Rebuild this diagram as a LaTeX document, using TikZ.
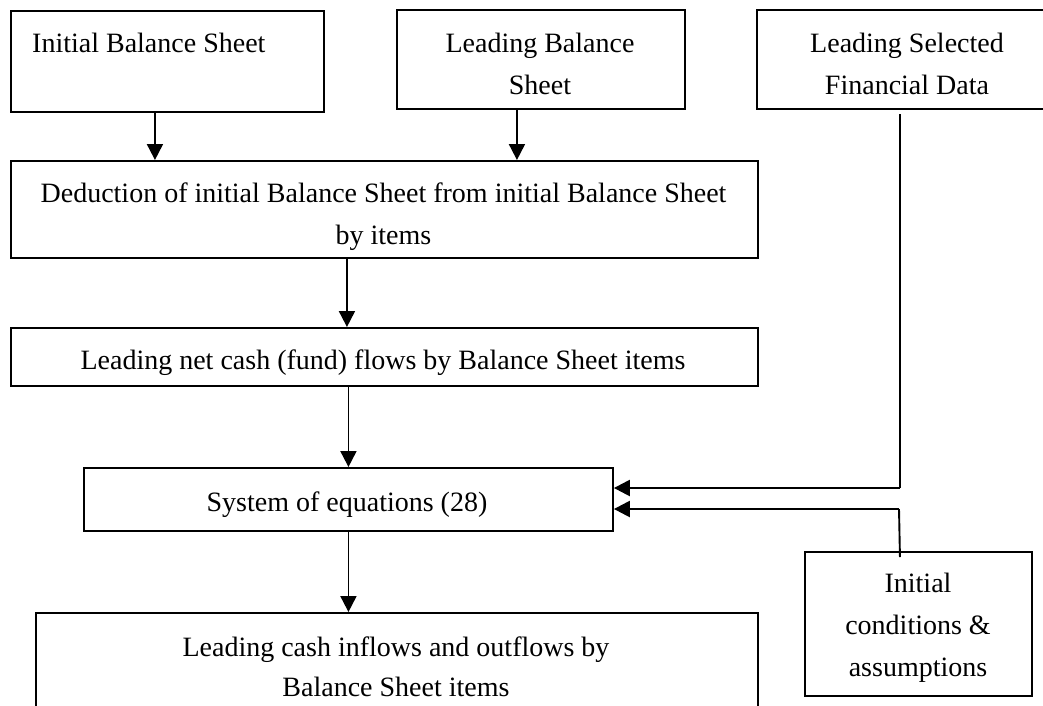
\documentclass[tikz,border=0pt]{standalone}
\usepackage{fontspec}
\setmainfont{Liberation Serif}
\usetikzlibrary{arrows.meta}
\begin{document}
\begin{tikzpicture}[x=1pt,y=-1pt,
  box/.style={draw, line width=1.9pt, inner sep=0pt, anchor=north west},
  txt/.style={font=\fontsize{28}{42}\selectfont, align=center, inner sep=0pt},
  arr/.style={-{Triangle[length=16pt,width=16pt]}, line width=1.9pt},
  harr/.style={-{Triangle[length=16pt,width=16pt]}, line width=2.4pt}]
\clip (0,0) rectangle (1043,705);
\fill[white] (0,0) rectangle (1043,705);
% boxes
\node[box, minimum width=313pt, minimum height=101pt] (b1) at (10,10) {};
\node[box, minimum width=288pt, minimum height=99pt] (b2) at (396,9) {};
\node[box, minimum width=302pt, minimum height=99pt] (b3) at (756,9) {};
\node[box, minimum width=747pt, minimum height=97pt] (b4) at (10,160) {};
\node[box, minimum width=747pt, minimum height=58pt] (b5) at (10,327) {};
\node[box, minimum width=529pt, minimum height=63pt] (b6) at (83,467) {};
\node[box, minimum width=227pt, minimum height=144pt] (b7) at (804,551) {};
\node[box, minimum width=722pt, minimum height=110pt] (b8) at (35,612) {};
% texts
\node[txt, anchor=west] (t1) at (32,43) {Initial Balance Sheet};
\node[txt] (t2) at (540,63.5) {Leading Balance\\Sheet};
\node[txt] (t3) at (907,63.5) {Leading Selected\\Financial Data};
\node[txt] (t4) at (383.5,216.5) {Deduction of initial Balance Sheet from initial Balance Sheet\\by items};
\node[txt] (t5) at (383,362.3) {Leading net cash (fund) flows by Balance Sheet items};
\node[txt] (t6) at (347,504.3) {System of equations (28)};
\node[txt] (t7) at (918,627.5) {Initial\\conditions \&\\assumptions};
\node[txt, font=\fontsize{28}{40}\selectfont] (t8) at (396,666.5) {Leading cash inflows and outflows by\\Balance Sheet items};
% connectors
\draw[arr] ([xshift=-12.5pt]b1.south) -- ([xshift=-12.5pt]b1.south |- b4.north);
\draw[arr] ([xshift=-24pt]b2.south) -- ([xshift=-24pt]b2.south |- b4.north);
\draw[arr] ([xshift=-37.5pt]b4.south) -- ([xshift=-37.5pt]b4.south |- b5.north);
\draw[arr] (b6.north |- b5.south) -- (b6.north);
\draw[arr] (b6.south) -- (b6.south |- b8.north);
\coordinate (c1) at (900,114);
\coordinate (c2) at (900,488);
\draw[line width=1.9pt] (c1) -- (c2);
\draw[harr] (c2) -- (c2 -| b6.east);
\coordinate (c3) at (899,509);
\draw[line width=1.9pt] ([xshift=-18.5pt,yshift=-6pt]b7.north) -- (c3);
\draw[harr] (c3) -- (c3 -| b6.east);
\end{tikzpicture}
\end{document}
